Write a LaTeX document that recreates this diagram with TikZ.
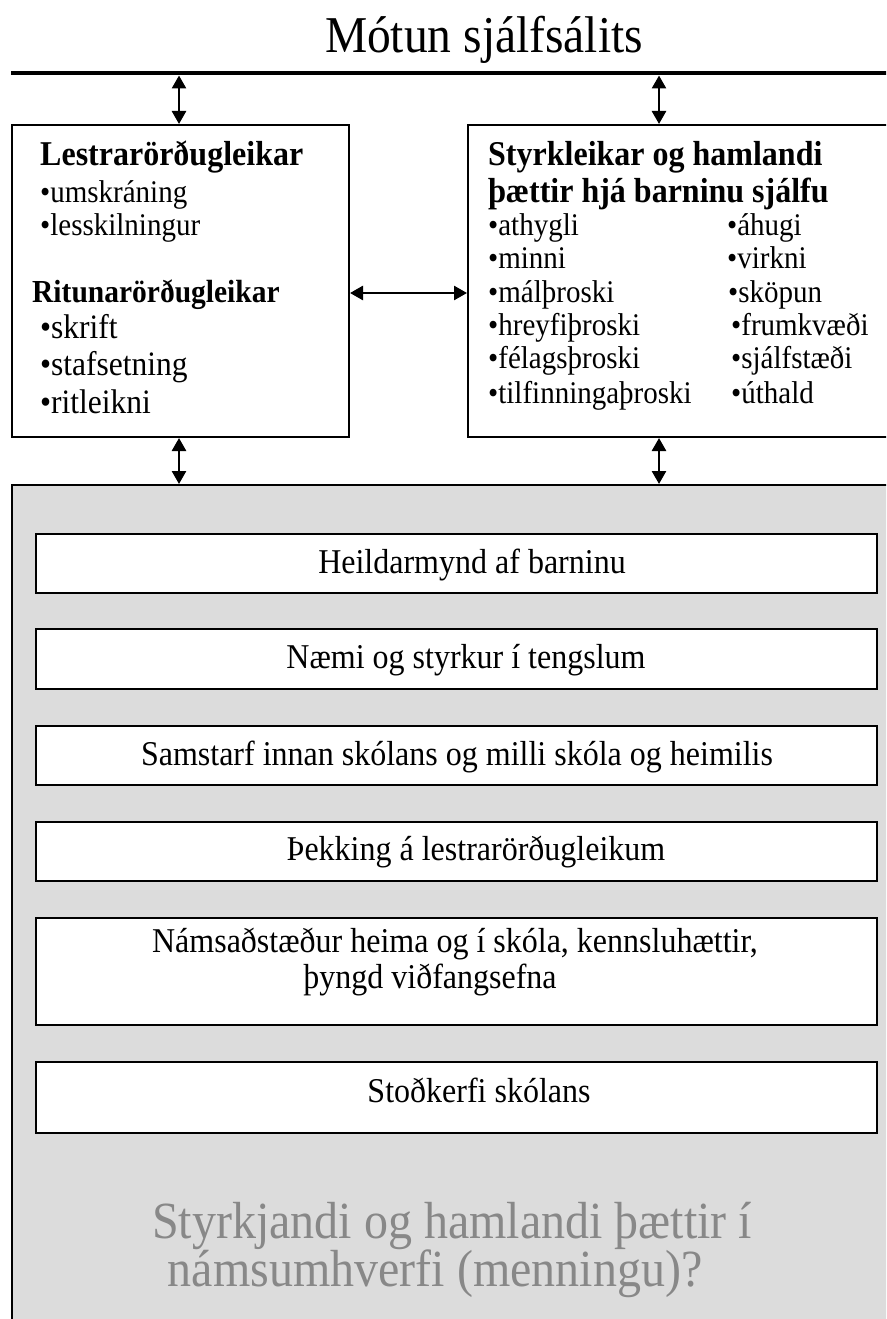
\documentclass[tikz,border=0pt]{standalone}
\usepackage{fontspec}
\setmainfont{Liberation Serif}[FakeStretch=0.92]
\usetikzlibrary{arrows.meta}
\definecolor{panelgray}{RGB}{220,220,220}
\definecolor{textgray}{RGB}{136,136,136}
\newcommand{\fsz}[1]{\fontsize{\fpeval{#1/0.92}pt}{\fpeval{#1/0.92}pt}\selectfont}
\begin{document}
\begin{tikzpicture}[x=1pt,y=-1pt,
  frame/.style={draw=black, line width=2pt, fill=white, inner sep=0pt, anchor=north west},
  txt/.style={inner sep=0pt, anchor=base west},
  ctxt/.style={inner sep=0pt, anchor=base},
  dbl/.style={{Triangle[length=13pt,width=14pt]}-{Triangle[length=13pt,width=14pt]}, line width=2.6pt},
  head/.style={txt, font=\fsz{32}\bfseries},
  item/.style={txt, font=\fsz{29}},
  boxtext/.style={ctxt, font=\fsz{32}},
]
\clip (0,0) rectangle (886,1319);
\fill[white] (0,0) rectangle (886,1319);

% title and bar
\node[ctxt, font=\fsz{47.5}] (title) at (484,53) {Mótun sjálfsálits};
\coordinate (barL) at (11,73);
\coordinate (barR) at (892,73);
\draw[line width=3.5pt] (barL) -- (barR);
\coordinate (t1) at (179,75.5);
\coordinate (t2) at (659,75.5);

% upper boxes
\node[frame, minimum width=337pt, minimum height=312pt] (L) at (11,124) {};
\node[frame, minimum width=440pt, minimum height=312pt] (R) at (467,124) {};

% gray panel
\node[frame, fill=panelgray, line width=1.5pt, minimum width=900pt, minimum height=900pt] (G) at (11,484) {};

% arrows
\draw[dbl] (t1) -- (t1 |- L.north);
\draw[dbl] (t2) -- (t2 |- R.north);
\draw[dbl] (L.east |- 0,293) -- (R.west |- 0,293);
\draw[dbl] (t1 |- L.south) -- (t1 |- G.north);
\draw[dbl] (t2 |- R.south) -- (t2 |- G.north);

% left box text
\node[head] (lh1) at (40,165) {Lestrarörðugleikar};
\node[item] (l1) at (40,202) {•umskráning};
\node[item] (l2) at (40,235) {•lesskilningur};
\node[txt, font=\fsz{29.5}\bfseries] (lh2) at (32,302) {Ritunarörðugleikar};
\node[txt, font=\fsz{31.5}] (l3) at (40,338) {•skrift};
\node[txt, font=\fsz{31.5}] (l4) at (40,375) {•stafsetning};
\node[txt, font=\fsz{31.5}] (l5) at (40,413) {•ritleikni};

% right box text
\node[head] (rh1) at (488,165) {Styrkleikar og hamlandi};
\node[head] (rh2) at (488,202) {þættir hjá barninu sjálfu};
\node[item] (ra1) at (488,235) {•athygli};
\node[item] (ra2) at (488,268) {•minni};
\node[item] (ra3) at (488,302) {•málþroski};
\node[item] (ra4) at (488,335) {•hreyfiþroski};
\node[item] (ra5) at (488,368) {•félagsþroski};
\node[item] (ra6) at (488,403) {•tilfinningaþroski};
\node[item] (rb1) at (727,235) {•áhugi};
\node[item] (rb2) at (727,268) {•virkni};
\node[item] (rb3) at (728,302) {•sköpun};
\node[item] (rb4) at (731,335) {•frumkvæði};
\node[item] (rb5) at (731,368) {•sjálfstæði};
\node[item] (rb6) at (731,403) {•úthald};

% inner boxes
\node[frame, minimum width=841pt, minimum height=59pt] (B1) at (35,533) {};
\node[frame, minimum width=841pt, minimum height=60pt] (B2) at (35,628) {};
\node[frame, minimum width=841pt, minimum height=59pt] (B3) at (35,725) {};
\node[frame, minimum width=841pt, minimum height=59pt] (B4) at (35,821) {};
\node[frame, minimum width=841pt, minimum height=107pt] (B5) at (35,917) {};
\node[frame, minimum width=841pt, minimum height=71pt] (B6) at (35,1061) {};

\node[boxtext] (b1t) at (472,573) {Heildarmynd af barninu};
\node[boxtext] (b2t) at (466,668) {Næmi og styrkur í tengslum};
\node[boxtext] (b3t) at (457,765) {Samstarf innan skólans og milli skóla og heimilis};
\node[boxtext] (b4t) at (476,860) {Þekking á lestrarörðugleikum};
\node[boxtext] (b5t) at (455,952) {Námsaðstæður heima og í skóla, kennsluhættir,};
\node[boxtext] (b5u) at (430,988) {þyngd viðfangsefna};
\node[boxtext] (b6t) at (479,1102) {Stoðkerfi skólans};

% gray caption
\node[ctxt, font=\fsz{48}, text=textgray] (g1) at (452,1238) {Styrkjandi og hamlandi þættir í};
\node[ctxt, font=\fsz{48}, text=textgray] (g2) at (435,1286) {námsumhverfi (menningu)?};
\end{tikzpicture}
\end{document}
